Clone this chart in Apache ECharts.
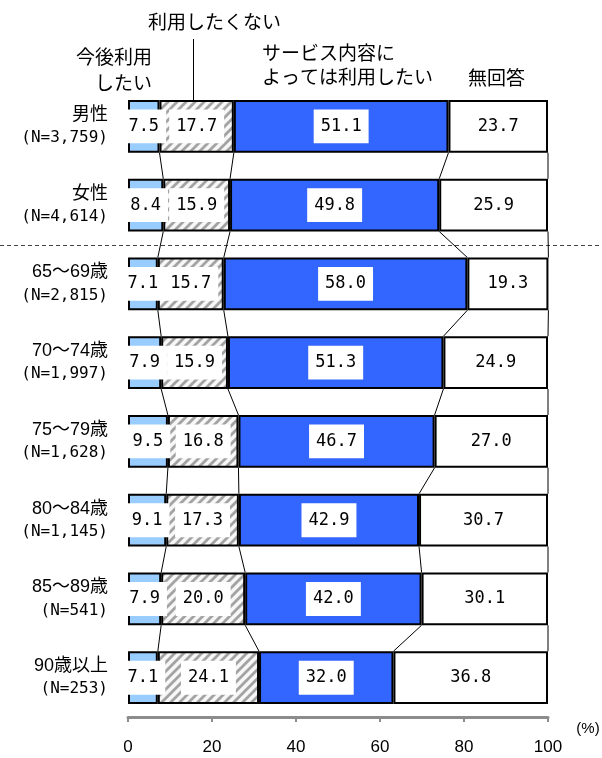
<!DOCTYPE html>
<html><head><meta charset="utf-8">
<script src="https://cdn.jsdelivr.net/npm/echarts@6/dist/echarts.min.js"></script>
<style>html,body{margin:0;padding:0;background:#fff}#c{width:602px;height:758px}</style>
</head><body><div id="c"></div>
<script>
var categories = ['男性','女性','65～69歳','70～74歳','75～79歳','80～84歳','85～89歳','90歳以上'];
var sampleSizes = ['(N=3,759)','(N=4,614)','(N=2,815)','(N=1,997)','(N=1,628)','(N=1,145)','(N=541)','(N=253)'];
var seriesNames = ['今後利用したい','利用したくない','サービス内容によっては利用したい','無回答'];
var useIt      = [7.5, 8.4, 7.1, 7.9, 9.5, 9.1, 7.9, 7.1];
var notUse     = [17.7, 15.9, 15.7, 15.9, 16.8, 17.3, 20.0, 24.1];
var dependsOn  = [51.1, 49.8, 58.0, 51.3, 46.7, 42.9, 42.0, 32.0];
var noAnswer   = [23.7, 25.9, 19.3, 24.9, 27.0, 30.7, 30.1, 36.8];
var xTicks = [0, 20, 40, 60, 80, 100];

var MONO = "'DejaVu Sans Mono','Noto Sans CJK JP',monospace";
var SANS = "'Liberation Sans','Noto Sans CJK JP',sans-serif";
var CJK = "'Noto Sans CJK JP','DejaVu Sans Mono',sans-serif";
var BAR_RATIO = 0.67;

// hatch pattern
var T = 9;
var pc = document.createElement('canvas');
pc.width = T; pc.height = T;
var g = pc.getContext('2d');
g.fillStyle = '#f7f7f7'; g.fillRect(0,0,T,T);
g.strokeStyle = '#a3a3a3'; g.lineWidth = 2.8;
g.beginPath();
g.moveTo(-1,T+1); g.lineTo(T+1,-1);
g.moveTo(-T/2-1,T/2+1); g.lineTo(T/2+1,-T/2-1);
g.moveTo(T/2-1,T*1.5+1); g.lineTo(T*1.5+1,T/2-1);
g.stroke();

var cum = categories.map(function(c,i){
  var a = useIt[i], b = a + notUse[i], d = b + dependsOn[i], e = d + noAnswer[i];
  return [a, b, d, e];
});

var labelCfg = {
  show: true, position: 'inside', color: '#000',
  fontFamily: MONO, fontSize: 17,
  backgroundColor: '#fff', padding: [9, 7, 8, 7],
  formatter: function(p){ return p.value.toFixed(1); }
};

var fills = ['#99ccff', {image: pc, repeat: 'repeat'}, '#3366ff', '#ffffff'];
var datas = [useIt, notUse, dependsOn, noAnswer];

var series = datas.map(function(d, k){
  return {
    name: seriesNames[k], type: 'bar', stack: 'all',
    barWidth: (BAR_RATIO*100) + '%',
    data: d,
    itemStyle: {color: fills[k], borderColor: '#000', borderWidth: 2},
    label: labelCfg,
    z: 3
  };
});

// connector lines between bars
series.push({
  type: 'custom', z: 2, silent: true, clip: false,
  data: categories.slice(0, -1).map(function(c, i){ return [0, i]; }),
  encode: {x: 0, y: 1},
  renderItem: function(params, api){
    var i = params.dataIndex;
    var half = api.size([0, 1])[1] * BAR_RATIO / 2;
    var ch = [];
    for (var k = 0; k < 4; k++) {
      var a = api.coord([cum[i][k], i]);
      var b = api.coord([cum[i+1][k], i+1]);
      ch.push({type: 'line', shape: {x1: a[0], y1: a[1] + half, x2: b[0], y2: b[1] - half},
               style: {stroke: '#000', lineWidth: 1}});
    }
    return {type: 'group', children: ch};
  }
});

// separator + annotation pointer
series.push({
  type: 'custom', z: 1, silent: true, clip: false,
  data: [[0, 0]],
  encode: {x: 0, y: 1},
  renderItem: function(params, api){
    var half = api.size([0, 1])[1] * BAR_RATIO / 2;
    var y1 = api.coord([0, 1])[1], y2 = api.coord([0, 2])[1];
    var ym = Math.round((y1 + y2) / 2) + 0.5;
    var p = api.coord([15.5, 0]);
    return {type: 'group', children: [
      {type: 'line', shape: {x1: 0, y1: ym, x2: api.getWidth(), y2: ym},
       style: {stroke: '#444', lineWidth: 1, lineDash: [4, 3]}},
      {type: 'line', shape: {x1: Math.round(p[0]) + 0.5, y1: 39, x2: Math.round(p[0]) + 0.5, y2: p[1] - half},
       style: {stroke: '#000', lineWidth: 1}}
    ]};
  }
});

var chart = echarts.init(document.getElementById('c'), null, {renderer: 'canvas'});
chart.setOption({
  animation: false,
  grid: {left: 128, right: 54, top: 87, bottom: 41, containLabel: false},
  xAxis: {
    type: 'value', min: 0, max: 100, interval: 20,
    axisLine: {show: true, lineStyle: {color: '#8c8c8c', width: 3}},
    axisTick: {show: true, length: 5, lineStyle: {color: '#8c8c8c', width: 2}},
    splitLine: {show: false},
    axisLabel: {color: '#000', fontFamily: SANS, fontSize: 17, margin: 22,
      formatter: function(v){ return xTicks.indexOf(v) >= 0 ? String(v) : ''; }}
  },
  yAxis: {
    type: 'category', inverse: true,
    data: categories,
    axisLine: {show: false}, axisTick: {show: false}, splitLine: {show: false},
    axisLabel: {
      margin: 20, align: 'right',
      formatter: function(v, i){ return '{a|' + v + '}\n{b|' + sampleSizes[i] + '}'; },
      rich: {
        a: {fontFamily: SANS, fontSize: 18, color: '#000', lineHeight: 23, align: 'right'},
        b: {fontFamily: MONO, fontSize: 16, color: '#000', lineHeight: 23, align: 'right'}
      }
    }
  },
  graphic: [
    {type: 'text', x: 152, y: 57, style: {text: '今後利用', font: '19px ' + CJK, fill: '#000', align: 'right', verticalAlign: 'middle'}},
    {type: 'text', x: 152, y: 83, style: {text: 'したい', font: '19px ' + CJK, fill: '#000', align: 'right', verticalAlign: 'middle'}},
    {type: 'text', x: 148, y: 22, style: {text: '利用したくない', font: '19px ' + CJK, fill: '#000', align: 'left', verticalAlign: 'middle'}},
    {type: 'text', x: 262, y: 53, style: {text: 'サービス内容に', font: '19px ' + CJK, fill: '#000', align: 'left', verticalAlign: 'middle'}},
    {type: 'text', x: 262, y: 77, style: {text: 'よっては利用したい', font: '19px ' + CJK, fill: '#000', align: 'left', verticalAlign: 'middle'}},
    {type: 'text', x: 468, y: 78, style: {text: '無回答', font: '19px ' + CJK, fill: '#000', align: 'left', verticalAlign: 'middle'}},
    {type: 'text', x: 588, y: 729, style: {text: '(%)', font: '15px ' + SANS, fill: '#000', align: 'center', verticalAlign: 'middle'}}
  ],
  series: series
});
</script>
</body></html>
